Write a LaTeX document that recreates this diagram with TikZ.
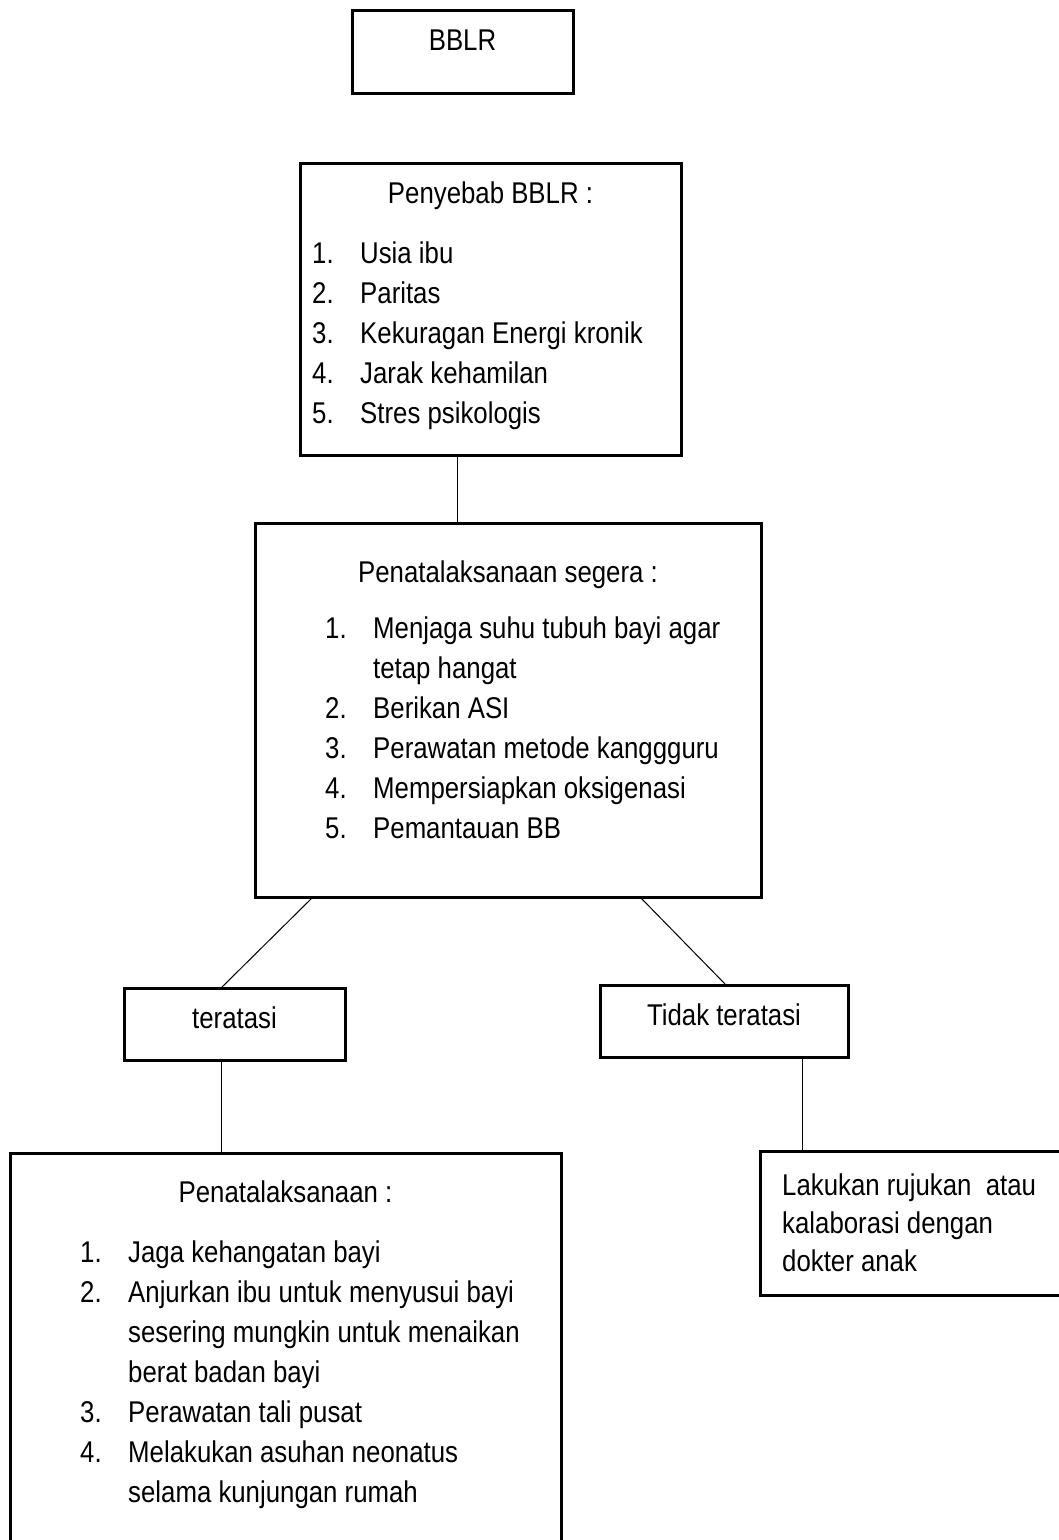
\documentclass[tikz,border=0pt]{standalone}
\usepackage{fontspec}
\setmainfont{Liberation Sans}[FakeStretch=0.86]
\tikzset{
  box/.style={draw,line width=3pt,anchor=north west,inner sep=0pt,outer sep=0pt},
  txt/.style={anchor=base west,inner sep=0pt,font=\fontsize{30}{40}\selectfont},
  mid/.style={txt,anchor=base},
  link/.style={line width=1pt}
}
\begin{document}
\begin{tikzpicture}[x=1pt,y=-1pt]
  \clip (0,0) rectangle (1059,1540);
  % boxes
  \node[box,minimum width=221,minimum height=83] (bblr) at (352,10) {};
  \node[box,minimum width=381,minimum height=292] (sebab) at (300,163) {};
  \node[box,minimum width=506,minimum height=374] (segera) at (255,523) {};
  \node[box,minimum width=221,minimum height=72] (teratasi) at (124,988) {};
  \node[box,minimum width=248,minimum height=72] (tidak) at (600,985) {};
  \node[box,minimum width=551,minimum height=420] (tata) at (10,1153) {};
  \node[box,minimum width=340,minimum height=144] (rujuk) at (760,1151) {};
  % texts
  \node[mid] (bblrt) at (462.5,50) {BBLR};
  \node[mid] (sebabt) at (490.5,203) {Penyebab BBLR :};
  \foreach \t [count=\i] in {Usia ibu,Paritas,Kekuragan Energi kronik,Jarak kehamilan,Stres psikologis}{
    \node[txt] (sn\i) at (312,{223+40*\i}) {\i.};
    \node[txt] (s\i) at (360,{223+40*\i}) {\t};
  }
  \node[mid] (segerat) at (508,582) {Penatalaksanaan segera :};
  \foreach \y/\n/\t [count=\i] in {638/1./Menjaga suhu tubuh bayi agar,678//tetap hangat,718/2./Berikan ASI,
      758/3./Perawatan metode kanggguru,798/4./Mempersiapkan oksigenasi,838/5./Pemantauan BB}{
    \node[txt] (gn\i) at (325,\y) {\n};
    \node[txt] (g\i) at (373,\y) {\t};
  }
  \node[mid] (teratasit) at (234.5,1028) {teratasi};
  \node[mid] (tidakt) at (724,1025) {Tidak teratasi};
  \node[mid] (tatat) at (285.5,1202) {Penatalaksanaan :};
  \foreach \y/\n/\t [count=\i] in {1262/1./Jaga kehangatan bayi,1302/2./Anjurkan ibu untuk menyusui bayi,
      1342//sesering mungkin untuk menaikan,1382//berat badan bayi,1422/3./Perawatan tali pusat,
      1462/4./Melakukan asuhan neonatus,1502//selama kunjungan rumah}{
    \node[txt] (tn\i) at (80,\y) {\n};
    \node[txt] (t\i) at (128,\y) {\t};
  }
  \foreach \y/\t [count=\i] in {1195/{Lakukan rujukan\ \ atau},1233/kalaborasi dengan,1271/dokter anak}{
    \node[txt] (r\i) at (782,\y) {\t};
  }
  % connectors
  \draw[link] ([xshift=-33.5]sebab.south) -- ([xshift=-51]segera.north);
  \draw[link] ([xshift=58]segera.south west) -- ([xshift=-13.5]teratasi.north);
  \draw[link] ([xshift=-121]segera.south east) -- ([xshift=2]tidak.north);
  \draw[link] ([xshift=-13.5]teratasi.south) -- ([xshift=-64.5]tata.north);
  \draw[link] ([xshift=78]tidak.south) -- ([xshift=42]rujuk.north west);
\end{tikzpicture}
\end{document}
